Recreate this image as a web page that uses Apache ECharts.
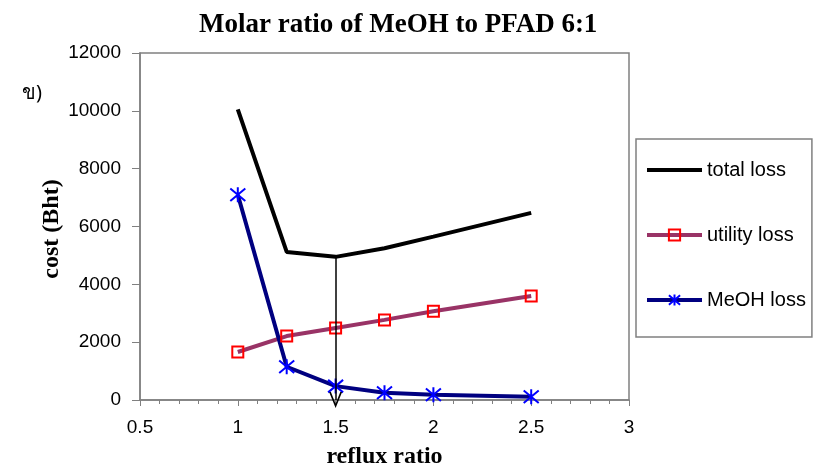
<!DOCTYPE html>
<html><head><meta charset="utf-8">
<script src="https://cdn.jsdelivr.net/npm/echarts@6/dist/echarts.min.js"></script>
<style>html,body{margin:0;padding:0;background:#fff}#c{width:813px;height:468px}</style>
</head><body><div id="c"></div>
<script>
var refluxRatio = [1, 1.25, 1.5, 1.75, 2, 2.5];
var totalLoss = [10050, 5120, 4950, 5250, 5650, 6470];
var utilityLoss = [1660, 2210, 2490, 2770, 3070, 3600];
var meohLoss = [7100, 1150, 480, 250, 180, 110];
var seriesNames = ['total loss', 'utility loss', 'MeOH loss'];
var arrowX = 1.5;

function pairs(xs, ys){ return xs.map(function(x,i){ return [x, ys[i]]; }); }
var arrowY = totalLoss[refluxRatio.indexOf(arrowX)];

var chart = echarts.init(document.getElementById('c'), null, {renderer:'canvas'});
var sans = 'Liberation Sans, Arial, sans-serif';
var serif = 'Liberation Serif, Times New Roman, serif';
var gray = '#808080';
chart.setOption({
  animation: false,
  backgroundColor: '#fff',
  title: {
    text: 'Molar ratio of MeOH to PFAD 6:1',
    left: 194, top: 7,
    textStyle: {fontFamily: serif, fontWeight: 'bold', fontSize: 27, color: '#000'}
  },
  grid: {left: 140, right: 184, top: 53, bottom: 68, show: true, borderColor: gray, borderWidth: 1.5, containLabel: false, outerBoundsMode: 'none'},
  legend: {
    orient: 'vertical', left: 636, top: 139,
    padding: [21, 6, 27, 9],
    itemGap: 45, itemWidth: 55, itemHeight: 14,
    borderColor: gray, borderWidth: 1.5,
    lineStyle: {width: 4},
    data: [{name: seriesNames[0], itemStyle: {opacity: 0}}, {name: seriesNames[1]}, {name: seriesNames[2]}],
    textStyle: {fontFamily: sans, fontSize: 20, color: '#000', lineHeight: 20, padding: [0,0,0,0]}
  },
  xAxis: {
    type: 'value', min: 0.5, max: 3, interval: 0.5,
    name: 'reflux ratio', nameLocation: 'middle', nameGap: 45,
    nameTextStyle: {fontFamily: serif, fontWeight: 'bold', fontSize: 24, color: '#000'},
    axisLine: {show: true, lineStyle: {color: gray, width: 1.5}},
    axisTick: {show: true, inside: false, length: 6, lineStyle: {color: gray}},
    minorTick: {show: true, splitNumber: 5, length: 4, lineStyle: {color: gray}},
    axisLabel: {fontFamily: sans, fontSize: 19, color: '#000', margin: 18},
    splitLine: {show: false}
  },
  yAxis: {
    type: 'value', min: 0, max: 12000, interval: 2000,
    axisLine: {show: true, lineStyle: {color: gray, width: 1.5}},
    axisTick: {show: true, inside: false, length: 8, lineStyle: {color: gray}},
    axisLabel: {fontFamily: sans, fontSize: 19, color: '#000', margin: 19, formatter: function(v){ return String(v); }},
    splitLine: {show: false}
  },
  graphic: [
    {type: 'text', left: 22, top: 83, style: {text: 'ข)', font: '20px "Noto Sans", serif', fill: '#000'}},
    {type: 'text', x: 52, y: 229, rotation: Math.PI/2,
     style: {text: 'cost (Bht)', font: 'bold 24px "Liberation Serif", serif', fill: '#000', align: 'center', verticalAlign: 'middle'}}
  ],
  series: [
    {
      name: seriesNames[0], type: 'line', data: pairs(refluxRatio, totalLoss),
      symbol: 'none', showSymbol: false,
      lineStyle: {color: '#000', width: 4}, itemStyle: {color: '#000'},
      markLine: {
        silent: true, symbol: ['none', 'path://M5,0 L10,10 L8.6,10 L5,2.6 L1.4,10 L0,10 Z'], symbolSize: [13, 16],
        label: {show: false},
        lineStyle: {color: '#000', width: 1.5, type: 'solid'},
        data: [[{coord: [arrowX, arrowY]}, {coord: [arrowX, 0]}]]
      }
    },
    {
      name: seriesNames[1], type: 'line', data: pairs(refluxRatio, utilityLoss),
      symbol: 'rect', symbolSize: 11,
      lineStyle: {color: '#993366', width: 4},
      itemStyle: {color: 'rgba(0,0,0,0)', borderColor: '#ff0000', borderWidth: 2}
    },
    {
      name: seriesNames[2], type: 'line', data: pairs(refluxRatio, meohLoss),
      symbol: 'path://M0,0 L10,10 M10,0 L0,10 M5,-1 L5,11', symbolSize: 15,
      lineStyle: {color: '#000080', width: 4},
      itemStyle: {color: 'rgba(0,0,0,0)', borderColor: '#0000ff', borderWidth: 2}
    }
  ]
});
</script></body></html>
